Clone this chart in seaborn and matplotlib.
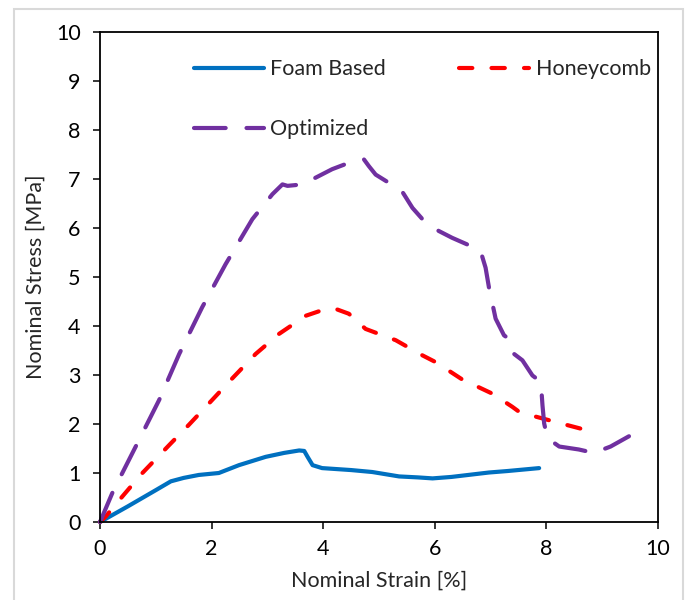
import numpy as np
import pandas as pd
import matplotlib
matplotlib.use("Agg")
import matplotlib.pyplot as plt
import seaborn as sns
from matplotlib.patches import Rectangle

# curvas (deformação [%], tensão [MPa])
foam_x = [0, 0.5, 1.0, 1.27, 1.5, 1.77, 2.13, 2.49, 2.97, 3.3, 3.57, 3.66, 3.72, 3.81, 3.98, 4.5, 4.88,
          5.36, 5.7, 5.96, 6.3, 6.97, 7.3, 7.87]
foam_y = [0, 0.32, 0.65, 0.83, 0.9, 0.96, 1.0, 1.16, 1.33, 1.41, 1.46, 1.45, 1.33, 1.16, 1.10, 1.06, 1.02,
          0.93, 0.91, 0.89, 0.92, 1.01, 1.04, 1.10]

honey_x = [0, 0.1, 0.4, 0.76, 1.24, 1.59, 2.01, 2.37, 2.79, 3.21, 3.69, 4.0, 4.22, 4.46, 4.76, 5.3,
           5.78, 6.02, 6.49, 7.03, 7.39, 7.51, 7.81, 8.3, 8.7]
honey_y = [0, 0.11, 0.52, 1.0, 1.57, 1.98, 2.49, 2.93, 3.43, 3.84, 4.21, 4.33, 4.35, 4.25, 3.94, 3.71,
           3.40, 3.26, 2.91, 2.62, 2.35, 2.25, 2.15, 2.0, 1.88]

opt_x = [0, 0.22, 0.4, 0.64, 1.06, 1.42, 1.83, 2.25, 2.73, 3.09, 3.27, 3.36, 3.63, 4.16, 4.46, 4.73,
         4.82, 4.94, 5.18, 5.39, 5.6, 5.81, 6.07, 6.31, 6.61, 6.82, 6.91, 6.97, 7.09, 7.24, 7.36, 7.42,
         7.57, 7.75, 7.9, 7.93, 7.96, 8.02, 8.23, 8.58, 8.85, 9.15, 9.48]
opt_y = [0, 0.59, 1.0, 1.54, 2.49, 3.43, 4.38, 5.26, 6.18, 6.69, 6.89, 6.86, 6.89, 7.20, 7.33, 7.40,
         7.26, 7.09, 6.92, 6.79, 6.41, 6.14, 5.94, 5.80, 5.65, 5.53, 5.19, 4.79, 4.15, 3.81, 3.71, 3.43,
         3.30, 2.99, 2.86, 2.38, 2.01, 1.71, 1.54, 1.48, 1.41, 1.54, 1.75]

curvas = pd.concat([
    pd.DataFrame({"strain": foam_x, "stress": foam_y, "serie": "Foam Based"}),
    pd.DataFrame({"strain": honey_x, "stress": honey_y, "serie": "Honeycomb"}),
    pd.DataFrame({"strain": opt_x, "stress": opt_y, "serie": "Optimized"}),
])

sns.set_style("white")
plt.rcParams["font.family"] = ["Lato", "DejaVu Sans"]
fs = 15.5

fig = plt.figure(figsize=(6.87, 6.0), dpi=100)
ax = fig.add_axes([100 / 687, 78 / 600, 558 / 687, 490 / 600])

# moldura cinza do gráfico do Excel
fig.patches.append(Rectangle((14 / 687, -0.1), 669 / 687, 1.1 - 9 / 600, transform=fig.transFigure,
                             fill=False, edgecolor="#d9d9d9", linewidth=1.5, zorder=0))

estilos = {
    "Foam Based": dict(color="#0070c0", dashes=None),
    "Honeycomb": dict(color="#ff0000", dashes=(3.2, 4.6)),
    "Optimized": dict(color="#7030a0", dashes=(7.6, 5.0)),
}
linhas = {}
for nome, sub in curvas.groupby("serie", sort=False):
    est = estilos[nome]
    kw = dict(color=est["color"], linewidth=3.0, ax=ax, clip_on=False, label=nome)
    sns.lineplot(data=sub, x="strain", y="stress", sort=False, estimator=None, **kw)
    ln = ax.lines[-1]
    ln.set_solid_capstyle("round")
    ln.set_dash_capstyle("round")
    if est["dashes"] is not None:
        ln.set_dashes(est["dashes"])
    linhas[nome] = ln

ax.set_xlim(0, 10)
ax.set_ylim(0, 10)
ax.set_xticks(np.arange(0, 11, 2))
ax.set_yticks(np.arange(0, 11, 1))
ax.set_xlabel("Nominal Strain [%]", fontsize=fs, labelpad=9)
ax.set_ylabel("Nominal Stress [MPa]", fontsize=fs, labelpad=7)
ax.tick_params(axis="both", direction="out", length=5, width=1.1, labelsize=fs, colors="black",
               bottom=True, left=True)
ax.tick_params(axis="x", pad=7)
ax.tick_params(axis="y", pad=9)
for s in ax.spines.values():
    s.set_color("black")
    s.set_linewidth(1.3)

ordem = ["Foam Based", "Optimized", "Honeycomb"]
leg = ax.legend([linhas[n] for n in ordem], ordem, ncol=2, frameon=False, loc="upper left",
                bbox_to_anchor=(0.168, 0.944), borderaxespad=0, borderpad=0, fontsize=fs,
                handlelength=3.25, handletextpad=0.3, columnspacing=3.4, labelspacing=1.85)

fig.savefig("out.png", dpi=100, facecolor="white")
